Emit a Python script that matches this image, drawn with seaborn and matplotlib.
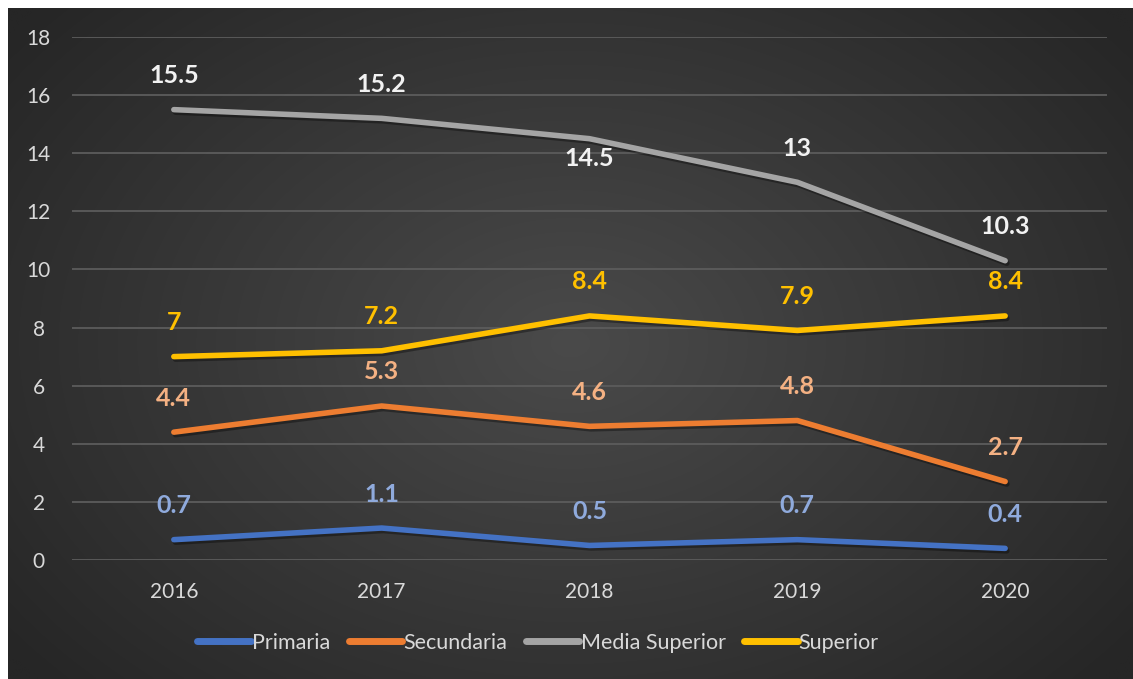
import numpy as np
import pandas as pd
import matplotlib
matplotlib.use("Agg")
import matplotlib.pyplot as plt
import matplotlib.patheffects as pe
from matplotlib.lines import Line2D
import seaborn as sns

# Data
years = [2016, 2017, 2018, 2019, 2020]
primaria = [0.7, 1.1, 0.5, 0.7, 0.4]
secundaria = [4.4, 5.3, 4.6, 4.8, 2.7]
media_superior = [15.5, 15.2, 14.5, 13, 10.3]
superior = [7, 7.2, 8.4, 7.9, 8.4]
series_names = ["Primaria", "Secundaria", "Media Superior", "Superior"]
y_ticks = [0, 2, 4, 6, 8, 10, 12, 14, 16, 18]

line_colors = ["#4472C4", "#ED7D31", "#A5A5A5", "#FFC000"]
label_colors = ["#8FAADC", "#F4B183", "#F2F2F2", "#FFC000"]

df = pd.DataFrame({
    "year": years * 4,
    "value": primaria + secundaria + media_superior + superior,
    "serie": sum([[n] * len(years) for n in series_names], []),
})

sns.set_theme(style="dark")
plt.rcParams["font.family"] = ["Lato", "DejaVu Sans"]

W, H = 1133, 679
fig = plt.figure(figsize=(W / 100, H / 100), dpi=100)
fig.patch.set_facecolor("white")

# Radial dark gradient panel
bg = fig.add_axes([8 / W, 0, 1 - 8 / W, 1 - 8 / H])
bg.set_axis_off()
gx, gy = np.meshgrid(np.linspace(-1, 1, 400), np.linspace(-1, 1, 300))
r = np.sqrt((gx * 0.95) ** 2 + (gy * 0.8) ** 2)
r = np.clip(r / 1.2, 0, 1)
c0 = np.array([0x4a, 0x4a, 0x4a]) / 255
c1 = np.array([0x26, 0x26, 0x26]) / 255
img = c0[None, None, :] * (1 - r[..., None]) + c1[None, None, :] * r[..., None]
bg.imshow(img, aspect="auto", extent=[0, 1, 0, 1], interpolation="bilinear")

ax = fig.add_axes([72 / W, 1 - 560 / H, (1107 - 72) / W, (560 - 37) / H])
ax.patch.set_alpha(0)

sns.lineplot(data=df, x="year", y="value", hue="serie", hue_order=series_names,
             palette=line_colors, linewidth=4.0, ax=ax, legend=False)

for ln in ax.get_lines():
    ln.set_solid_capstyle("round")
    ln.set_solid_joinstyle("round")
    ln.set_path_effects([pe.SimpleLineShadow(offset=(1.2, -1.8), shadow_color="black", alpha=0.35),
                         pe.Normal()])

# Data labels
series_values = [primaria, secundaria, media_superior, superior]
for vals, col, name in zip(series_values, label_colors, series_names):
    for yr, v in zip(years, vals):
        dy = 24.5
        if name == "Media Superior" and yr == 2018:
            dy = -14
        ax.annotate(f"{v:g}", (yr, v), xytext=(0, dy), textcoords="offset points",
                    ha="center", va="center", color=col, fontsize=18, fontweight="bold")

ax.set_xlim(2015.51, 2020.49)
ax.set_ylim(0, 18)
ax.set_yticks(y_ticks)
ax.set_xticks(years)
ax.set_xticklabels([str(y) for y in years])
ax.set_xlabel("")
ax.set_ylabel("")
ax.grid(axis="y", color="#5c5c5c", linewidth=1.3)
ax.grid(axis="x", visible=False)
for s in ax.spines.values():
    s.set_visible(False)
ax.tick_params(axis="both", length=0, colors="#d9d9d9", labelsize=15)
ax.tick_params(axis="y", pad=24)
ax.tick_params(axis="x", pad=16)
for t in ax.get_yticklabels():
    t.set_horizontalalignment("center")

handles = [Line2D([0], [0], color=c, linewidth=5, solid_capstyle="round") for c in line_colors]
leg = fig.legend(handles, series_names, loc="center", bbox_to_anchor=(538 / W, 1 - 643 / H),
                 ncol=4, frameon=False, fontsize=15.5, handlelength=2.5, handletextpad=0.05,
                 columnspacing=0.85, labelcolor="#d9d9d9")

fig.savefig("out.png", dpi=100)
